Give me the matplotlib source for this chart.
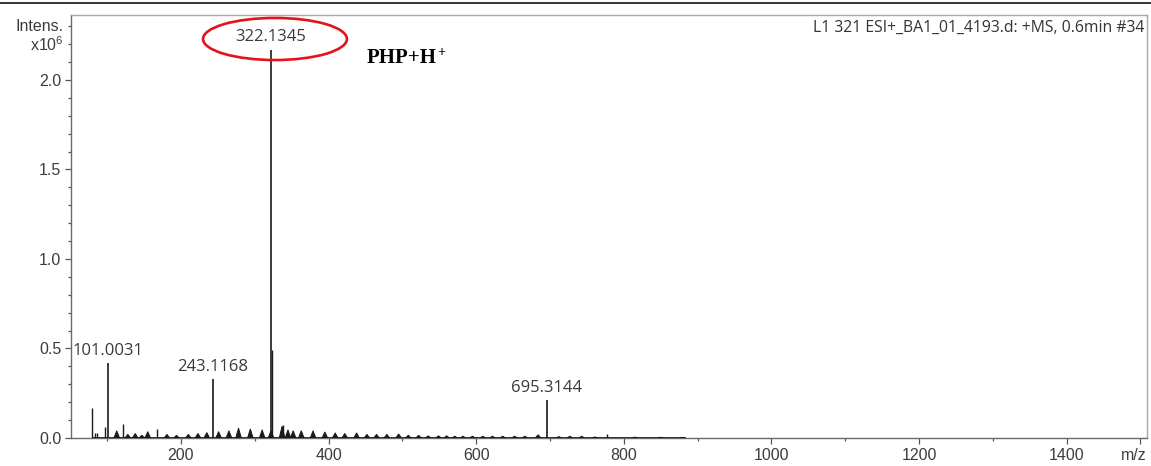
import matplotlib
matplotlib.use('Agg')
import matplotlib.pyplot as plt
from matplotlib.patches import Ellipse
from matplotlib.collections import PolyCollection
from matplotlib.lines import Line2D
from matplotlib.ticker import FixedLocator, MultipleLocator

# ---------------- data (intensity in units of 1e6) ----------------
labeled_mz = [101.0031, 243.1168, 322.1345, 695.3144]
labeled_int = [0.42, 0.33, 2.17, 0.21]
labeled_txt = ["101.0031", "243.1168", "322.1345", "695.3144"]

stick_mz = [79, 84, 86, 97, 122, 168, 323.7, 338, 777]
stick_int = [0.17, 0.03, 0.03, 0.06, 0.08, 0.053, 0.49, 0.075, 0.02]

cluster_mz = [113, 128, 138, 147, 155, 181, 194, 210, 223, 235, 251, 265, 278,
              294, 310, 322, 337, 345, 352, 363, 379, 395, 409, 422, 438, 452,
              465, 479, 495, 508, 522, 535, 549, 560, 571, 582, 595, 609, 622,
              636, 652, 666, 684, 712, 727, 743, 761, 815, 850, 880]
cluster_int = [0.04, 0.02, 0.025, 0.015, 0.035, 0.02, 0.015, 0.02, 0.025, 0.03,
               0.035, 0.04, 0.055, 0.05, 0.045, 0.04, 0.065, 0.045, 0.04, 0.04,
               0.04, 0.033, 0.028, 0.025, 0.028, 0.02, 0.02, 0.02, 0.022, 0.015,
               0.015, 0.012, 0.012, 0.012, 0.01, 0.01, 0.01, 0.01, 0.01, 0.01,
               0.01, 0.01, 0.018, 0.008, 0.01, 0.01, 0.006, 0.005, 0.004, 0.003]

x_ticks = [200, 400, 600, 800, 1000, 1200, 1400, 1500]
x_ticklabels = ["200", "400", "600", "800", "1000", "1200", "1400", ""]
x_unit = "m/z"
y_ticks = [0.0, 0.5, 1.0, 1.5, 2.0]
y_ticklabels = ["0.0", "0.5", "1.0", "1.5", "2.0"]

header = "L1 321 ESI+_BA1_01_4193.d: +MS, 0.6min #34"
species = "PHP+H"

# ---------------- style ----------------
plt.rcParams['mathtext.fontset'] = 'custom'
plt.rcParams['mathtext.rm'] = 'Liberation Sans'
plt.rcParams['mathtext.it'] = 'Liberation Sans'

W, H = 1151, 466
fig = plt.figure(figsize=(W / 100, H / 100), dpi=100)
ax = fig.add_axes([71 / W, 1 - 438 / H, (1147 - 71) / W, (438 - 15) / H])

ax.set_xlim(51, 1509)
ax.set_ylim(0, 2.363)

# baseline
ax.hlines(0, min(stick_mz), max(cluster_mz), color='#111111', lw=1.3, zorder=2)

# clusters as narrow triangles
half_w = 3.8
polys = [[(m - half_w, 0), (m, h), (m + half_w, 0)] for m, h in zip(cluster_mz, cluster_int)]
ax.add_collection(PolyCollection(polys, facecolor='#1a1a1a', edgecolor='#1a1a1a', lw=0.7, zorder=3))

# sticks
ax.vlines(stick_mz, 0, stick_int, color='#1a1a1a', lw=1.0, zorder=3)
ax.vlines(labeled_mz, 0, labeled_int, color='#1a1a1a', lw=1.2, zorder=3)

for m, h, t in zip(labeled_mz, labeled_int, labeled_txt):
    ax.annotate(t, xy=(m, h), xytext=(0, 3), textcoords='offset points',
                ha='center', va='bottom', fontsize=12, family='Open Sans',
                color='#3a3a3a')

# ticks
ax.xaxis.set_major_locator(FixedLocator(x_ticks))
ax.set_xticklabels(x_ticklabels)
ax.xaxis.set_minor_locator(MultipleLocator(100))
ax.yaxis.set_major_locator(FixedLocator(y_ticks))
ax.set_yticklabels(y_ticklabels)
ax.yaxis.set_minor_locator(MultipleLocator(0.1))
ax.tick_params(which='major', direction='out', length=4, width=0.9, color='#555555',
               labelsize=11.5, labelcolor='#3c3c3c', pad=3)
ax.tick_params(which='minor', direction='out', length=2.5, width=0.9, color='#555555')
for lab in ax.get_xticklabels() + ax.get_yticklabels():
    lab.set_family('Liberation Sans')

# x unit label at the right end of the axis
ax.annotate(x_unit, xy=(1.0, 0), xycoords='axes fraction', xytext=(0, -7),
            textcoords='offset points', ha='right', va='top', fontsize=11.5,
            family='Liberation Sans', color='#3c3c3c')

for s in ['left', 'bottom']:
    ax.spines[s].set_color('#6a6a6a')
    ax.spines[s].set_linewidth(1.0)
for s in ['top', 'right']:
    ax.spines[s].set_color('#a8a8a8')
    ax.spines[s].set_linewidth(1.0)

# y "unit" labels
ax.annotate("Intens.", xy=(0, 2.3), xycoords=('axes fraction', 'data'),
            xytext=(-5, 0), textcoords='offset points', ha='right', va='center',
            fontsize=11.5, family='Liberation Sans', color='#3c3c3c')
ax.annotate(r"x10$^{6}$", xy=(0, 2.2), xycoords=('axes fraction', 'data'),
            xytext=(-5, 0), textcoords='offset points', ha='right', va='center',
            fontsize=11.5, family='Liberation Sans', color='#3c3c3c')

# header text inside axes
ax.text(0.998, 0.988, header, transform=ax.transAxes, ha='right', va='top',
        fontsize=11.3, family='Open Sans', color='#333333')

# red ellipse around main peak label
ax.add_patch(Ellipse((327.4, 2.229), 195, 0.235, fill=False, edgecolor='#e3131b',
                     lw=1.9, clip_on=False, zorder=5))

# species label
t = ax.text(452, 2.123, species, ha='left', va='center', fontsize=15,
            family='Liberation Serif', fontweight='bold', color='black')
ax.annotate("+", xy=(1.0, 0.78), xycoords=t, ha='left', va='center', fontsize=10,
            family='Liberation Serif', fontweight='bold', color='black')

# top rule of the figure
fig.add_artist(Line2D([0, 1], [1 - 3.3 / H] * 2, transform=fig.transFigure,
                      color='#111111', lw=1.2))

fig.savefig('out.png', dpi=100)
